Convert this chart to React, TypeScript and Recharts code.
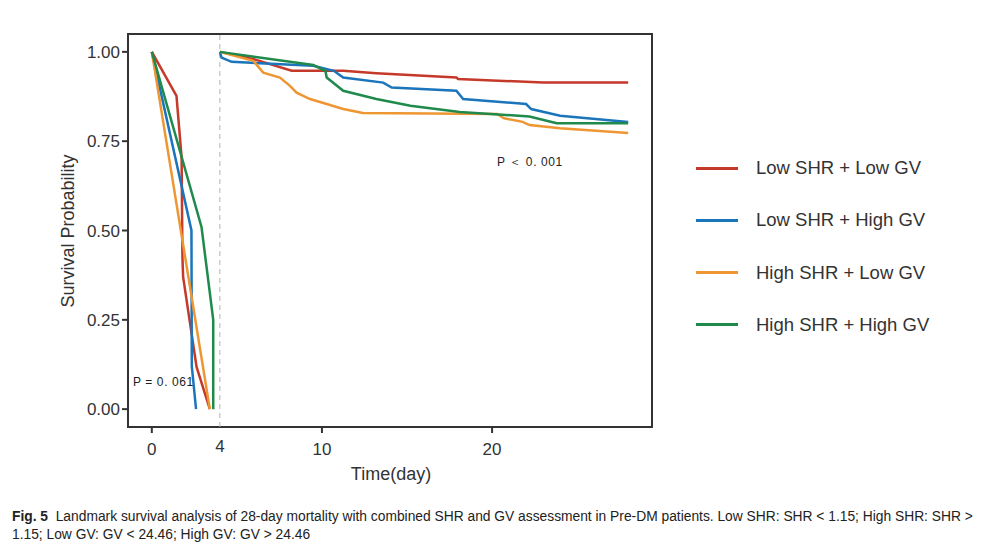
import { LineChart, Line, XAxis, YAxis, ReferenceLine, ReferenceArea } from 'recharts';

// Landmark KM curves — two windows: day 0–4 and day 4–28.

const RED = '#c5392a';
const BLUE = '#1b75bb';
const ORANGE = '#ee9632';
const GREEN = '#1f8a4b';
const INK = '#333333';

const seriesNames = ['Low SHR + Low GV', 'Low SHR + High GV', 'High SHR + Low GV', 'High SHR + High GV'];
const seriesColors = [RED, BLUE, ORANGE, GREEN];

const xTicks = [0, 10, 20];
const yTicks = [0, 0.25, 0.5, 0.75, 1];

// [day, survival] — first window (0–4)
const lowLowEarly = [[0, 1], [1.45, 0.877], [1.75, 0.705], [1.8, 0.425], [1.84, 0.37], [2.63, 0.118], [3.41, 0]];
const lowHighEarly = [[0, 1], [2.33, 0.5], [2.35, 0.12], [2.6, 0]];
const highLowEarly = [[0, 1], [3.41, 0]];
const highHighEarly = [[0, 1], [2.92, 0.51], [3.61, 0.25], [3.61, 0]];

// [day, survival] — second window (4–28)
const lowLowLate = [
  [4, 1], [5.96, 0.98], [8.22, 0.947], [11.25, 0.947], [13.2, 0.94], [17.9, 0.928],
  [18.0, 0.924], [23.0, 0.914], [28, 0.914],
];
const lowHighLate = [
  [4, 1], [4.1, 0.984], [4.69, 0.972], [7.3, 0.966], [9.49, 0.961], [10.7, 0.947],
  [11.25, 0.928], [13.6, 0.914], [14.1, 0.9], [17.9, 0.891], [18.3, 0.868], [22.0, 0.854],
  [22.3, 0.84], [24, 0.821], [28, 0.804],
];
const highLowLate = [
  [4, 1], [5.96, 0.975], [6.55, 0.942], [7.53, 0.928], [8.12, 0.905], [8.51, 0.886],
  [9.3, 0.868], [10.28, 0.854], [11.25, 0.84], [12.4, 0.829], [20.3, 0.826], [20.7, 0.814],
  [21.8, 0.804], [22.2, 0.795], [24, 0.786], [28, 0.773],
];
const highHighLate = [
  [4, 1], [9.49, 0.963], [10.2, 0.947], [10.28, 0.928], [11.25, 0.891], [13.2, 0.868],
  [15.2, 0.849], [18.1, 0.832], [22.2, 0.819], [23.8, 0.8], [28, 0.8],
];

const earlySets = [lowLowEarly, lowHighEarly, highLowEarly, highHighEarly];
const lateSets = [lowLowLate, lowHighLate, highLowLate, highHighLate];

const toRows = (pts: number[][]) => pts.map(([x, y]) => ({ x, y }));

const SANS = '"Liberation Sans", Arial, sans-serif';

function FourLabel(props: any) {
  const x = props.viewBox?.x ?? 0;
  return (
    <text x={x} y={452} textAnchor="middle" fontSize={17} fill={INK} fontFamily={SANS}>
      4
    </text>
  );
}

export default function App() {
  return (
    <div style={{ position: 'absolute', left: 0, top: 0, width: 990, height: 551, background: '#fff' }}>
      <LineChart width={990} height={551} margin={{ top: 34, right: 338, left: 40, bottom: 64 }}>
        <XAxis
          dataKey="x"
          type="number"
          domain={[-1.4, 29.4]}
          ticks={xTicks}
          allowDataOverflow
          axisLine={false}
          tickSize={6}
          tickMargin={10}
          tickLine={{ stroke: INK, strokeWidth: 2 }}
          tick={{ fontSize: 17, fill: INK, fontFamily: SANS }}
          height={60}
        />
        <YAxis
          type="number"
          domain={[-0.05, 1.05]}
          ticks={yTicks}
          allowDataOverflow
          axisLine={false}
          tickSize={6}
          tickMargin={2}
          tickLine={{ stroke: INK, strokeWidth: 2 }}
          tick={{ fontSize: 17, fill: INK, fontFamily: SANS }}
          tickFormatter={(v: number) => v.toFixed(2)}
          width={88}
        />
        <ReferenceArea
          x1={-1.4}
          x2={29.4}
          y1={-0.05}
          y2={1.05}
          fill="none"
          stroke={INK}
          strokeWidth={2}
          ifOverflow="visible"
        />
        <ReferenceLine x={4} stroke="#b5b5b5" strokeDasharray="5 4" strokeWidth={1} label={FourLabel} />
        {earlySets.map((pts, i) => (
          <Line
            key={`e${i}`}
            data={toRows(pts)}
            dataKey="y"
            type="linear"
            stroke={seriesColors[i]}
            strokeWidth={2.5}
            dot={false}
            activeDot={false}
            isAnimationActive={false}
          />
        ))}
        {lateSets.map((pts, i) => (
          <Line
            key={`l${i}`}
            data={toRows(pts)}
            dataKey="y"
            type="linear"
            stroke={seriesColors[i]}
            strokeWidth={2.5}
            dot={false}
            activeDot={false}
            isAnimationActive={false}
          />
        ))}
      </LineChart>

      {/* axis titles */}
      <div
        style={{
          position: 'absolute', left: 68, top: 231, transform: 'translate(-50%, -50%) rotate(-90deg)',
          fontFamily: SANS, fontSize: 18, color: INK, whiteSpace: 'nowrap',
        }}
      >
        Survival Probability
      </div>
      <div
        style={{
          position: 'absolute', left: 391, top: 474, transform: 'translate(-50%, -50%)',
          fontFamily: SANS, fontSize: 18, color: INK, whiteSpace: 'nowrap',
        }}
      >
        Time(day)
      </div>

      {/* p-values */}
      <div style={{ position: 'absolute', left: 133, top: 375, fontFamily: SANS, fontSize: 12, letterSpacing: 0.6, color: '#222', whiteSpace: 'pre' }}>
        {'P = 0. 061'}
      </div>
      <div style={{ position: 'absolute', left: 497, top: 154, fontFamily: SANS, fontSize: 12, letterSpacing: 0.6, color: '#222', whiteSpace: 'pre' }}>
        {'P ＜ 0. 001'}
      </div>

      {/* legend */}
      {seriesNames.map((name, i) => (
        <div key={name} style={{ position: 'absolute', left: 696, top: 168 + i * 52.3 - 14, height: 28, display: 'flex', alignItems: 'center' }}>
          <div style={{ width: 42, height: 3, background: seriesColors[i] }} />
          <div style={{ marginLeft: 18, fontFamily: SANS, fontSize: 18.5, color: INK, whiteSpace: 'nowrap' }}>{name}</div>
        </div>
      ))}

      {/* caption */}
      <div
        style={{
          position: 'absolute', left: 12, top: 508, fontFamily: SANS, fontSize: 13.8, lineHeight: '18px',
          color: '#222', whiteSpace: 'nowrap',
        }}
      >
        <b>Fig. 5</b>&nbsp;&nbsp;Landmark survival analysis of 28-day mortality with combined SHR and GV assessment in Pre-DM patients. Low SHR: SHR &lt; 1.15; High SHR: SHR &gt;
        <br />
        1.15; Low GV: GV &lt; 24.46; High GV: GV &gt; 24.46
      </div>
    </div>
  );
}
